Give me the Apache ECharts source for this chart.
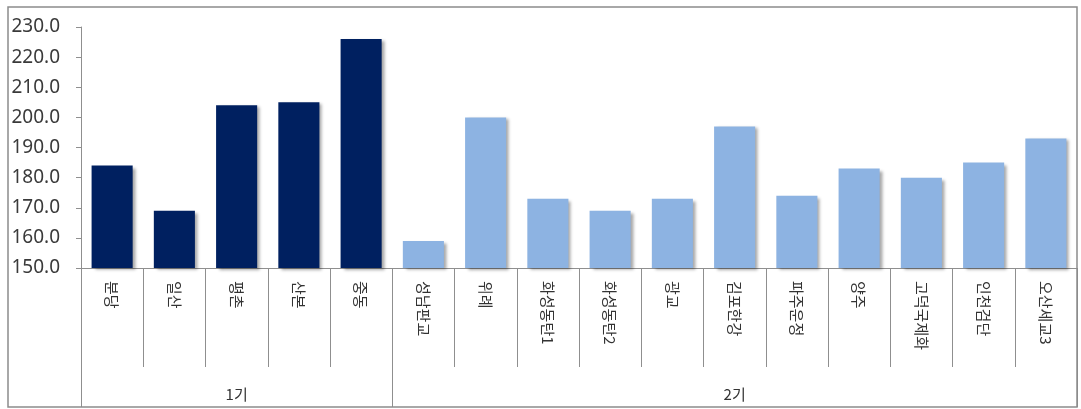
<!DOCTYPE html>
<html>
<head>
<meta charset="utf-8">
<script src="https://cdn.jsdelivr.net/npm/echarts@6/dist/echarts.min.js"></script>
<style>
  html, body { margin: 0; padding: 0; background: #ffffff; }
  #chart { width: 1081px; height: 409px; }
</style>
</head>
<body>
<div id="chart"></div>
<script>
// New-town districts, grouped by development phase
const gen1Names = ['분당', '일산', '평촌', '산본', '중동'];
const gen1Values = [184, 169, 204, 205, 226];
const gen2Names = ['성남판교', '위례', '화성동탄1', '화성동탄2', '광교', '김포한강', '파주운정', '양주', '고덕국제화', '인천검단', '오산세교3'];
const gen2Values = [159, 200, 173, 169, 173, 197, 174, 183, 180, 185, 193];
const groupNames = ['1기', '2기'];
const yTicks = { min: 150, max: 230, step: 10 };

const categories = gen1Names.concat(gen2Names);
const n1 = gen1Names.length;
const nAll = categories.length;

// index of the middle category of each group (where its group label sits)
const groupMid = [Math.floor((n1 - 1) / 2), n1 + Math.floor((nAll - n1 - 1) / 2)];

const gen1Data = categories.map((c, i) => (i < n1 ? gen1Values[i] : '-'));
const gen2Data = categories.map((c, i) => (i >= n1 ? gen2Values[i - n1] : '-'));

const font = '"Noto Sans CJK KR", "Noto Sans", sans-serif';
const lineGray = '#8f8f8f';
const shadow = {
  shadowColor: 'rgba(0,0,0,0.35)',
  shadowBlur: 3,
  shadowOffsetX: 3,
  shadowOffsetY: 2
};

const chart = echarts.init(document.getElementById('chart'));
chart.setOption({
  animation: false,
  backgroundColor: '#ffffff',
  graphic: [{
    type: 'rect',
    shape: { x: 8, y: 7, width: 1069, height: 400 },
    style: { fill: 'none', stroke: '#8c8c8c', lineWidth: 1.5 },
    z: 100
  }],
  grid: { left: 81, right: 4, top: 27, bottom: 141, containLabel: false },
  xAxis: [
    {
      type: 'category',
      data: categories,
      position: 'bottom',
      axisLine: { show: true, lineStyle: { color: lineGray, width: 1 } },
      axisTick: { show: true, length: 99, lineStyle: { color: lineGray, width: 1 } },
      axisLabel: {
        rotate: -90,
        margin: 13,
        fontSize: 15,
        color: '#333333',
        fontFamily: font,
        interval: 0
      }
    },
    {
      type: 'category',
      data: categories,
      position: 'bottom',
      axisLine: { show: false },
      axisTick: {
        show: true,
        length: 139,
        interval: (i) => i === 0 || i === n1 || i === nAll,
        lineStyle: { color: lineGray, width: 1 }
      },
      axisLabel: {
        margin: 119,
        fontSize: 15,
        color: '#333333',
        fontFamily: font,
        interval: (i) => groupMid.indexOf(i) >= 0,
        formatter: (v, i) => {
          const g = groupMid.indexOf(i);
          return g >= 0 ? groupNames[g] : '';
        }
      }
    }
  ],
  yAxis: {
    type: 'value',
    min: yTicks.min,
    max: yTicks.max,
    interval: yTicks.step,
    axisLine: { show: true, lineStyle: { color: lineGray, width: 1 } },
    axisTick: { show: true, length: 5, lineStyle: { color: lineGray } },
    splitLine: { show: false },
    axisLabel: {
      margin: 21,
      fontSize: 19,
      color: '#3a3a3a',
      fontFamily: '"Noto Sans", sans-serif',
      formatter: (v) => v.toFixed(1)
    }
  },
  series: [
    {
      name: groupNames[0],
      type: 'bar',
      data: gen1Data,
      barGap: '-100%',
      barCategoryGap: '34%',
      itemStyle: Object.assign({ color: '#002060' }, shadow)
    },
    {
      name: groupNames[1],
      type: 'bar',
      data: gen2Data,
      barGap: '-100%',
      barCategoryGap: '34%',
      itemStyle: Object.assign({ color: '#8db3e2' }, shadow)
    }
  ]
});
</script>
</body>
</html>
